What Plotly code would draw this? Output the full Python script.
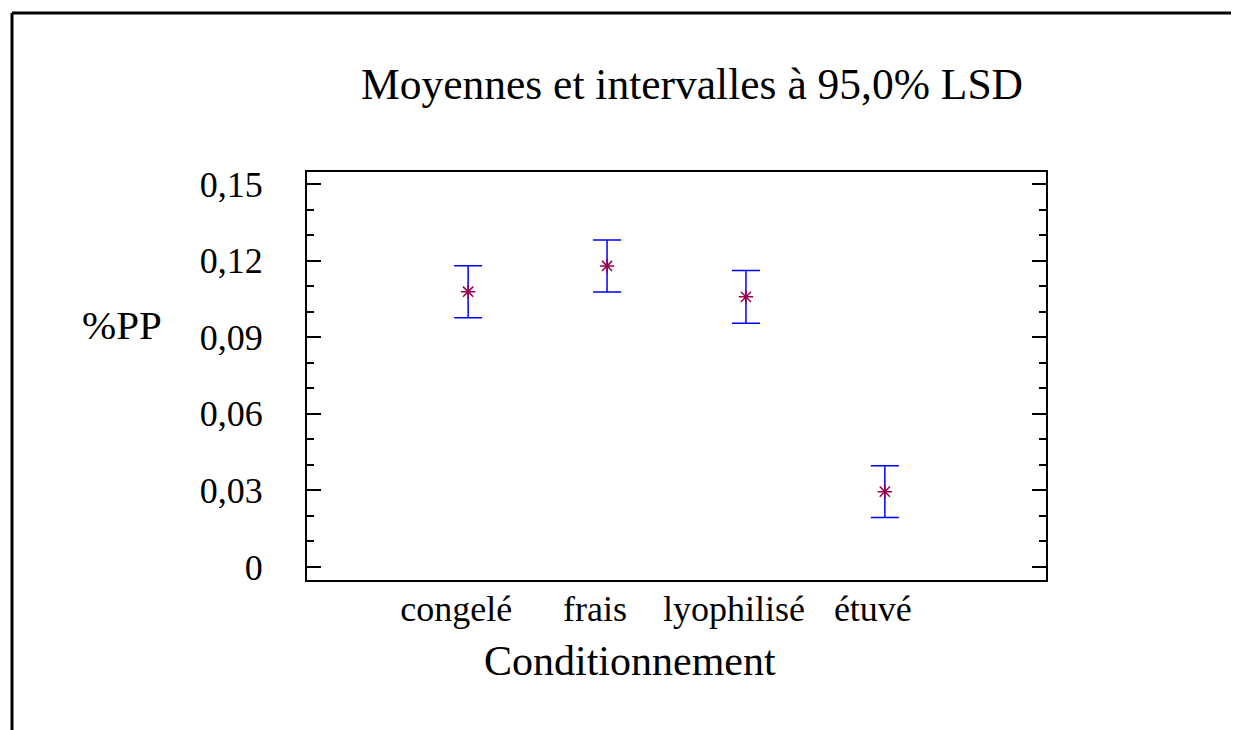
import plotly.graph_objects as go

categories = ["congelé", "frais", "lyophilisé", "étuvé"]
means = [0.1078, 0.1179, 0.1058, 0.0295]
half_lsd = [0.0102, 0.0102, 0.0103, 0.0101]
y_tickvals = [0, 0.03, 0.06, 0.09, 0.12, 0.15]
y_ticktext = ["0", "0,03", "0,06", "0,09", "0,12", "0,15"]

FONT = "Liberation Serif"

fig = go.Figure()
fig.add_trace(go.Scatter(
    x=categories, y=means, mode="markers",
    marker=dict(symbol="asterisk-open", size=12, color="#99004d",
                line=dict(width=1.5, color="#99004d")),
    error_y=dict(type="data", array=half_lsd, visible=True,
                 color="#0000ff", thickness=1.5, width=14),
    showlegend=False,
))

# page has an 8px body margin; work in page pixel coordinates
OFF = 8
W, H = 1239 - OFF, 730 - OFF
L, R, T, B = 307, 1046, 172, 580
pw, ph = R - L, B - T

def px(x):
    return (x - L) / pw

def py(y):
    return (B - y) / ph

fig.update_layout(
    width=W, height=H,
    margin=dict(l=L - OFF, r=W - (R - OFF), t=T - OFF, b=H - (B - OFF)),
    paper_bgcolor="white", plot_bgcolor="white",
    font=dict(family=FONT, color="black", size=36),
    title=dict(text="Moyennes et intervalles à 95,0% LSD",
               font=dict(family=FONT, size=43.5, color="black"),
               x=px(692), xref="paper", xanchor="center",
               y=1 - (84 - OFF) / H, yref="container", yanchor="middle"),
    xaxis=dict(
        type="category", range=[-1.16, 4.16],
        showline=True, linecolor="black", linewidth=2, mirror=True,
        ticks="", showgrid=False, zeroline=False,
        tickfont=dict(family=FONT, size=36, color="black"),
        ticklabelstandoff=-4, ticklabelshift=-12,
    ),
    yaxis=dict(
        range=[-0.0051, 0.1547],
        tickvals=y_tickvals, ticktext=y_ticktext,
        showline=True, linecolor="black", linewidth=2, mirror="allticks",
        ticks="inside", ticklen=14, tickwidth=1.5, tickcolor="black",
        minor=dict(dtick=0.01, tick0=0, ticks="inside", ticklen=7,
                   tickwidth=1.5, tickcolor="black", showgrid=False),
        showgrid=False, zeroline=False,
        tickfont=dict(family=FONT, size=36, color="black"),
        ticklabelstandoff=35,
    ),
    annotations=[
        dict(text="%PP", x=px(122), y=py(325), xref="paper", yref="paper",
             showarrow=False, xanchor="center", yanchor="middle",
             font=dict(family=FONT, size=41, color="black")),
        dict(text="Conditionnement", x=px(630), y=py(661), xref="paper", yref="paper",
             showarrow=False, xanchor="center", yanchor="middle",
             font=dict(family=FONT, size=42, color="black")),
    ],
    shapes=[
        dict(type="line", xref="paper", yref="paper",
             x0=px(12), y0=py(745), x1=px(12), y1=py(13),
             line=dict(color="black", width=3)),
        dict(type="line", xref="paper", yref="paper",
             x0=px(12), y0=py(13), x1=px(1250), y1=py(13),
             line=dict(color="black", width=3)),
    ],
)

fig.write_html("out.html")
